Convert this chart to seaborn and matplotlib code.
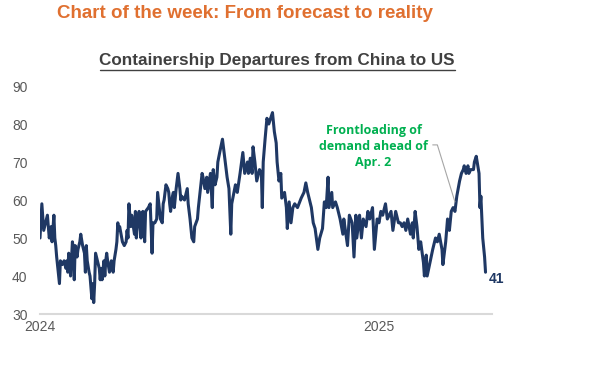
import pandas as pd
import seaborn as sns
import matplotlib.pyplot as plt

START = "2024-01-01"

# days since START
days = [0, 2, 4, 8, 10, 12, 13, 15, 16, 17, 18, 21, 22, 24, 26, 28, 29, 30, 31, 32,
        33, 35, 36, 37, 38, 40, 41, 43, 44, 46, 48, 49, 50, 51, 53, 54, 55, 56, 57, 58,
        59, 60, 62, 64, 65, 66, 67, 69, 70, 71, 72, 73, 75, 77, 78, 79, 80, 82, 83, 84,
        85, 86, 89, 91, 93, 94, 95, 96, 98, 99, 102, 103, 104, 105, 107, 109, 110, 111, 113, 114,
        117, 119, 121, 122, 124, 126, 127, 130, 132, 133, 134, 136, 138, 139, 140, 141, 143, 144, 145, 147,
        149, 151, 152, 153, 156, 159, 160, 162, 164, 166, 167, 170, 171, 175, 176, 178, 180, 181, 184, 186,
        187, 189, 191, 192, 194, 197, 200, 202, 204, 206, 207, 211, 213, 216, 219, 221, 224, 225, 227, 229,
        230, 232, 234, 237, 239, 240, 241, 243, 245, 247, 249, 251, 253, 255, 256, 258, 260, 261, 264, 266,
        267, 269, 271, 273, 275, 278, 282, 285, 287, 289, 293, 295, 297, 300, 302, 305, 307, 309, 311, 312,
        315, 316, 319, 321, 324, 327, 328, 332, 334, 337, 339, 341, 342, 345, 347, 349, 352, 354, 356, 359,
        361, 364, 366, 368, 370, 373, 375, 377, 379, 381, 384, 387, 389, 391, 393, 395, 397, 400, 402, 403,
        405, 407, 409, 411, 414, 415, 417, 418, 421, 424, 427, 429, 431, 434, 435, 438, 440, 442, 444, 446,
        448, 450, 453, 455, 457, 458, 460, 462, 463, 465, 468, 469, 471, 472, 474, 475, 476, 478, 480, 481]

departures = [50, 59, 52, 56, 50, 53, 49, 56, 50, 48, 45, 38, 44, 43, 44, 42, 44, 41, 46, 44,
              40, 49, 47, 39, 48, 45, 47, 49, 51, 48, 46, 41, 48, 44, 41, 40, 37, 34, 38, 33,
              38, 46, 44, 42, 39, 42, 39, 44, 40, 44, 46, 44, 41, 44, 43, 41, 44, 47, 49, 54,
              52, 53, 49, 48, 49, 52, 50, 59, 53, 56, 51, 57, 50, 53, 57, 50, 55, 57, 49, 57,
              58, 59, 46, 54, 54, 55, 62, 55, 54, 59, 60, 64, 63, 62, 59, 57, 61, 62, 58, 63,
              67, 63, 60, 61, 60, 63, 59, 55, 50, 49, 53, 55, 58, 67, 66, 63, 66, 62, 67, 58,
              68, 64, 66, 70, 72.5, 76, 70, 66, 63, 51, 59, 64, 62, 67, 72.5, 67, 70, 67, 71, 67,
              74, 70, 65, 68, 67, 58, 70, 76, 81.5, 80, 81.5, 83, 78, 75, 70, 65, 67, 60.5, 62, 58,
              52.5, 59.5, 54, 58, 59, 58, 60.5, 62, 64.5, 62, 58, 54, 52.5, 47, 50, 52.5, 59.5, 58, 66, 58,
              62, 58, 59.5, 58, 55, 51, 55, 48, 56, 54, 45, 56, 50, 56, 50, 55, 53, 57, 55, 58,
              47, 55, 54, 57, 56, 59, 55, 56, 57, 52, 57, 54, 54, 53, 54, 52, 55, 51, 54, 50,
              57, 53, 47, 49, 43.5, 40, 45.5, 40, 43.5, 47, 50, 49, 51, 47, 43, 49, 55, 52, 57, 58,
              57, 61, 65, 67, 68, 69, 67, 69, 67, 68, 68, 70, 71.5, 70, 67, 58, 61, 50, 45, 41]

yticks = [30, 40, 50, 60, 70, 80, 90]
xticks = ["2024-01-01", "2025-01-01"]
xticklabels = ["2024", "2025"]

NAVY = "#1F3864"
GREEN = "#00B050"
ORANGE = "#E07030"
GREY = "#595959"

df = pd.DataFrame({
    "date": pd.Timestamp(START) + pd.to_timedelta(days, unit="D"),
    "value": departures,
})

sns.set_style("white")
plt.rcParams["font.family"] = ["Liberation Sans", "DejaVu Sans"]

fig = plt.figure(figsize=(6, 3.66), dpi=100)
ax = fig.add_axes([40 / 600, 1 - 314 / 366, 452 / 600, 228 / 366])

sns.lineplot(data=df, x="date", y="value", color=NAVY, linewidth=2.2, ax=ax)

ax.set_xlim(pd.Timestamp("2024-01-01"), pd.Timestamp("2025-05-03"))
ax.set_ylim(30, 90)
ax.set_yticks(yticks)
ax.set_xticks(pd.to_datetime(xticks))
ax.set_xticklabels(xticklabels)
ax.set_xlabel("")
ax.set_ylabel("")
ax.tick_params(axis="both", length=0, labelsize=10, colors=GREY)
ax.tick_params(axis="y", pad=9)
ax.tick_params(axis="x", pad=4)
for s in ["top", "right", "left"]:
    ax.spines[s].set_visible(False)
ax.spines["bottom"].set_color("#D9D9D9")
ax.spines["bottom"].set_linewidth(1.5)

# end label
last = df.iloc[-1]
ax.annotate(f"{last['value']:.0f}", xy=(last["date"], last["value"]),
            xytext=(2, -5), textcoords="offset points",
            ha="left", va="center", fontsize=10, fontweight="bold", color=NAVY)

# annotation with leader line
ax.text(pd.Timestamp("2024-12-26"), 74.2, "Frontloading of\ndemand ahead of\nApr. 2",
        ha="center", va="center", fontsize=9, fontweight="bold", color=GREEN,
        family=["Open Sans", "DejaVu Sans"], linespacing=1.3)
ax.plot(pd.to_datetime(["2025-02-28", "2025-03-05", "2025-03-24"]), [74.5, 74.5, 59.5],
        color="#A6A6A6", linewidth=0.8)

fig.text(57 / 600, 1 - 14 / 366, "Chart of the week: From forecast to reality",
         ha="left", va="center", fontsize=13.5, fontweight="bold", color=ORANGE)
fig.text(277 / 600, 1 - 61 / 366, "Containership Departures from China to US",
         ha="center", va="center", fontsize=12.3, fontweight="bold", color="#404040")
fig.add_artist(plt.Line2D([100 / 600, 455 / 600], [1 - 70 / 366, 1 - 70 / 366],
                          color="#404040", linewidth=1))

fig.savefig("out.png", dpi=100)
